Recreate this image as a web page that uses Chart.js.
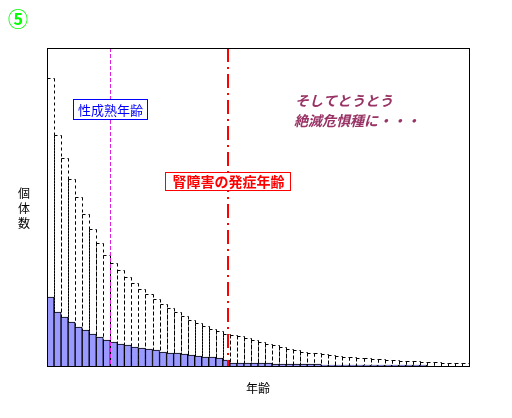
<!DOCTYPE html>
<html>
<head>
<meta charset="utf-8">
<script src="https://cdn.jsdelivr.net/npm/chart.js@4/dist/chart.umd.min.js"></script>
<style>
  html, body { margin: 0; padding: 0; background: #ffffff; }
  #wrap { width: 512px; height: 418px; }
</style>
</head>
<body>
<div id="wrap"><canvas id="c" width="512" height="418"></canvas></div>
<script>
// Age classes (one bar per class)
const ages = ['1','2','3','4','5','6','7','8','9','10',
              '11','12','13','14','15','16','17','18','19','20',
              '21','22','23','24','25','26','27','28','29','30',
              '31','32','33','34','35','36','37','38','39','40',
              '41','42','43','44','45','46','47','48','49','50',
              '51','52','53','54','55','56','57','58','59','60'];

// Remaining population per age class (filled bars)
const remaining = [69,54,49,44,39,36,32,29,26,24,
                   22,21,19,18,17,16,14,13,13,12,
                   11,10,9,9,8,6,3,3,3,3,
                   3,3,2,2,2,2,2,2,2,1,
                   1,1,1,1,1,1,1,1,1,1,
                   1,1,1,1,0,0,0,0,0,0];

// Original population per age class (dotted outlines)
const original = [288,231,208,187,169,152,137,123,111,103,
                  96,89,83,77,72,67,62,58,54,50,
                  46,43,40,37,35,32,31,30,28,26,
                  24,22,21,19,17,16,14,13,13,12,
                  11,10,9,9,8,8,7,7,6,6,
                  5,5,5,4,4,4,3,3,3,3];

const yMax = 318;
const maturityAge = 8.9;   // 性成熟年齢 (in age-class units from the left edge)
const onsetAge = 25.7;     // 腎障害の発症年齢

const JP = '"Noto Sans CJK JP", "Noto Sans CJK SC", sans-serif';

const overlay = {
  id: 'overlay',
  beforeDatasetsDraw(chart) {
    // dotted outlines of the original population
    const ctx = chart.ctx;
    const meta = chart.getDatasetMeta(1);
    ctx.save();
    ctx.strokeStyle = '#000000';
    ctx.lineWidth = 1;
    ctx.setLineDash([3, 3]);
    meta.data.forEach(el => {
      const p = el.getProps(['x', 'y', 'base', 'width'], true);
      const l = Math.round(p.x - p.width / 2) + 0.5;
      const r = Math.round(p.x + p.width / 2) + 0.5;
      const t = Math.round(p.y) + 0.5;
      const b = Math.round(p.base);
      ctx.beginPath();
      ctx.moveTo(l, t);
      ctx.lineTo(r, t);
      ctx.stroke();
      ctx.beginPath();
      ctx.moveTo(l, t);
      ctx.lineTo(l, b);
      ctx.stroke();
      ctx.beginPath();
      ctx.moveTo(r, t);
      ctx.lineTo(r, b);
      ctx.stroke();
    });
    ctx.restore();
  },
  afterDatasetsDraw(chart) {
    const ctx = chart.ctx;
    const a = chart.chartArea;
    const xs = chart.scales.x;
    const xm = Math.round(xs.getPixelForValue(maturityAge - 0.5)) + 0.5;
    const xo = Math.round(xs.getPixelForValue(onsetAge - 0.5));
    ctx.save();

    // maturity age line
    ctx.strokeStyle = '#e020e0';
    ctx.lineWidth = 1;
    ctx.setLineDash([4, 2]);
    ctx.beginPath();
    ctx.moveTo(xm, a.top);
    ctx.lineTo(xm, a.bottom);
    ctx.stroke();

    // onset age line
    ctx.strokeStyle = '#ff0000';
    ctx.lineWidth = 2;
    ctx.setLineDash([14, 5, 2, 5]);
    ctx.beginPath();
    ctx.moveTo(xo, a.top);
    ctx.lineTo(xo, a.bottom);
    ctx.stroke();
    ctx.setLineDash([]);

    // frame
    ctx.strokeStyle = '#000000';
    ctx.lineWidth = 1;
    ctx.strokeRect(a.left + 0.5, a.top + 0.5, a.right - a.left, a.bottom - a.top);

    // maturity label box
    ctx.fillStyle = '#ffffff';
    ctx.fillRect(xm - 37, 99, 75, 21);
    ctx.strokeStyle = '#0000ff';
    ctx.strokeRect(xm - 37, 99.5, 74, 20);
    ctx.fillStyle = '#0000ff';
    ctx.font = '13px ' + JP;
    ctx.textAlign = 'center';
    ctx.textBaseline = 'middle';
    ctx.fillText('性成熟年齢', xm, 110);

    // onset label box
    ctx.fillStyle = '#ffffff';
    ctx.fillRect(xo - 62, 172, 126, 19);
    ctx.strokeStyle = '#ff0000';
    ctx.strokeRect(xo - 62.5, 172.5, 125, 18);
    ctx.fillStyle = '#ff0000';
    ctx.font = 'bold 14px ' + JP;
    ctx.fillText('腎障害の発症年齢', xo + 0.5, 182);

    // comment text
    ctx.fillStyle = '#993366';
    ctx.font = 'italic bold 14px ' + JP;
    ctx.textAlign = 'left';
    ctx.fillText('そしてとうとう', 295, 101);
    ctx.fillText('絶滅危惧種に・・・', 294, 121);

    ctx.restore();
  },
  afterDraw(chart) {
    const ctx = chart.ctx;
    const a = chart.chartArea;
    ctx.save();
    ctx.textAlign = 'center';
    ctx.textBaseline = 'middle';
    // axis titles
    ctx.fillStyle = '#000000';
    ctx.font = '12px ' + JP;
    ['個', '体', '数'].forEach((ch, i) => ctx.fillText(ch, 24, 193 + i * 15));
    ctx.fillText('年齢', (a.left + a.right) / 2, 388);
    // panel number
    ctx.fillStyle = '#00ff00';
    ctx.font = 'bold 20px ' + JP;
    ctx.fillText('⑤', 18, 19);
    ctx.restore();
  }
};

new Chart(document.getElementById('c'), {
  type: 'bar',
  data: {
    labels: ages,
    datasets: [
      {
        label: '現在の個体数',
        data: remaining,
        backgroundColor: '#9999ff',
        borderColor: '#000000',
        borderWidth: 1,
        borderSkipped: 'start',
        grouped: false,
        barPercentage: 1,
        categoryPercentage: 1
      },
      {
        label: 'もとの個体数',
        data: original,
        backgroundColor: 'rgba(0,0,0,0)',
        borderWidth: 0,
        grouped: false,
        barPercentage: 1,
        categoryPercentage: 1
      }
    ]
  },
  options: {
    responsive: false,
    animation: false,
    devicePixelRatio: 1,
    layout: { padding: { left: 47, right: 43, top: 48, bottom: 52 } },
    plugins: { legend: { display: false }, tooltip: { enabled: false } },
    scales: {
      x: { display: false, offset: true, grid: { display: false } },
      y: { display: false, min: 0, max: yMax, grid: { display: false } }
    }
  },
  plugins: [overlay]
});
</script>
</body>
</html>
